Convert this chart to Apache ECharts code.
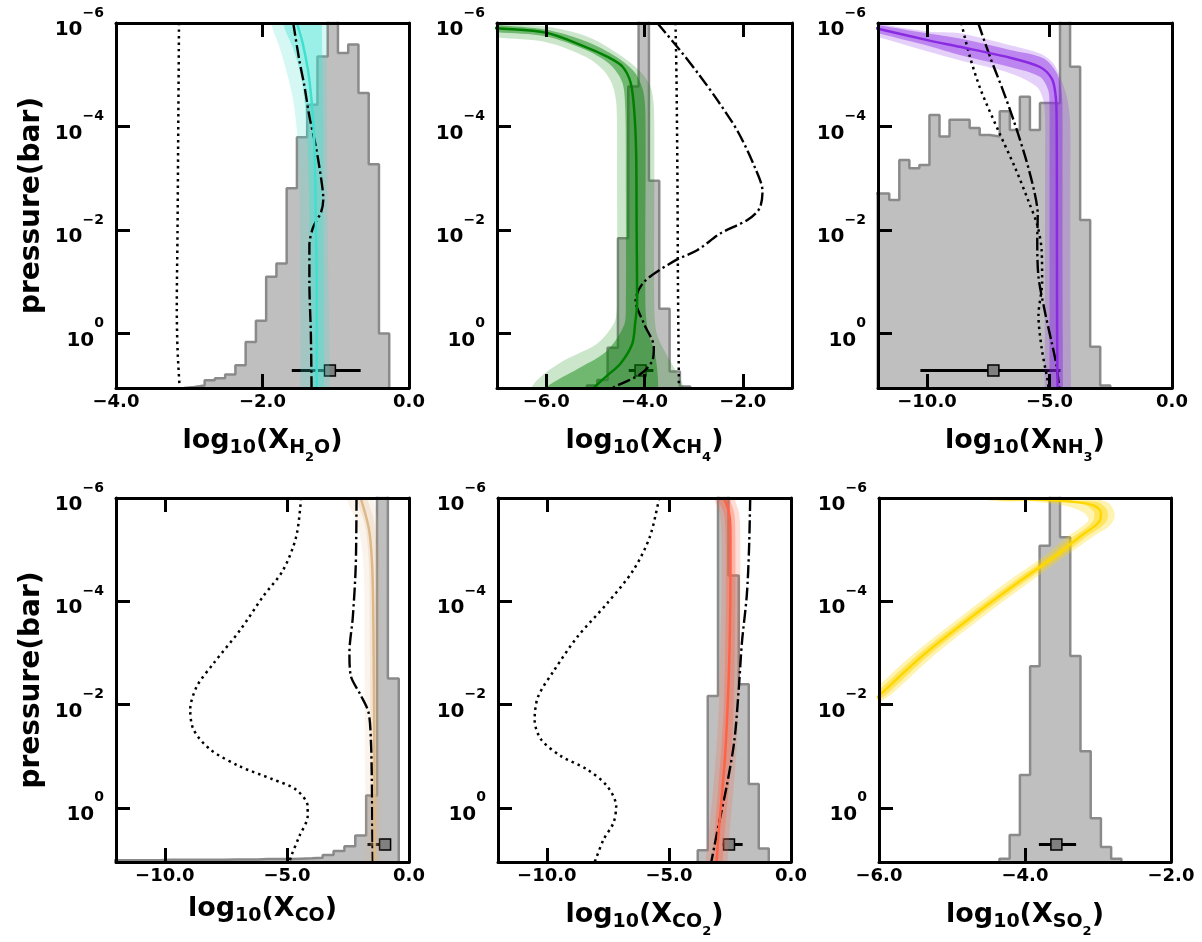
<!DOCTYPE html>
<html>
<head>
<meta charset="utf-8">
<script src="https://cdn.jsdelivr.net/npm/echarts@6/dist/echarts.min.js"></script>
<style>
  html, body { margin: 0; padding: 0; background: #fff; }
  #chart { width: 1202px; height: 942px; }
</style>
</head>
<body>
<div id="chart"></div>
<script>
// pressure axis is log10(p / bar); top of every panel is 1e-6 bar
const pTicks = [-6, -4, -2, 0];
const pBottom = 1.05;
const errP = 0.71; // pressure level where the retrieved value is marked

// ---------- H2O ----------
const h2oEdges = [-3.07, -2.93, -2.79, -2.65, -2.51, -2.37, -2.23, -2.09, -1.95, -1.81, -1.67, -1.53, -1.39, -1.25, -1.11, -0.97, -0.83, -0.69, -0.55, -0.41, -0.27];
const h2oCounts = [0.3, 0.7, 2.1, 2.7, 3.7, 6.2, 12.6, 18.4, 30.5, 34.1, 54.7, 68.7, 77.6, 90.8, 105, 91.8, 94.1, 80.8, 61.3, 14.9];
const h2oMed = [[-1.53, -6], [-1.45, -5.6], [-1.38, -5.1], [-1.33, -4.5], [-1.30, -3.9], [-1.28, -3], [-1.27, -2], [-1.26, -1], [-1.26, 0], [-1.26, 1.06]];
const h2oLo1 = [[-1.72, -6], [-1.58, -5.5], [-1.48, -5], [-1.42, -4.4], [-1.39, -3.7], [-1.37, -3], [-1.36, -2], [-1.35, 0], [-1.35, 1.06]];
const h2oHi1 = [[-1.19, -6], [-1.18, -5], [-1.17, -4], [-1.17, -2], [-1.16, 0], [-1.16, 1.06]];
const h2oLo2 = [[-1.88, -6], [-1.76, -5.5], [-1.66, -5.0], [-1.58, -4.5], [-1.53, -3.9], [-1.50, -3], [-1.49, -2], [-1.48, 0], [-1.48, 1.06]];
const h2oHi2 = [[-1.12, -6], [-1.12, -4], [-1.11, -2], [-1.10, -1], [-1.09, 0], [-1.08, 1.06]];
const h2oDot = [[-3.14, -6], [-3.15, -4], [-3.16, -2], [-3.17, -0.5], [-3.16, 0.3], [-3.13, 1.06]];
const h2oDash = [[-1.58, -6], [-1.50, -5.3], [-1.43, -4.8], [-1.36, -4.2], [-1.27, -3.6], [-1.20, -3.0], [-1.17, -2.6], [-1.20, -2.35], [-1.31, -2.05], [-1.36, -1.7], [-1.36, -1.0], [-1.34, 0], [-1.33, 1.06]];
const h2oErr = [-1.60, -1.08, -0.66];

// ---------- CH4 ----------
const ch4Edges = [-5.17, -4.96, -4.75, -4.54, -4.33, -4.12, -3.91, -3.70, -3.49, -3.28, -3.07];
const ch4Counts = [0.7, 2.2, 11, 41, 82.6, 110, 56.8, 21.7, 4.5, 0.4];
const ch4Med = [[-7.3, -5.93], [-7.0, -5.90], [-6.0, -5.81], [-5.23, -5.55], [-4.76, -5.35], [-4.45, -5.16], [-4.28, -4.84], [-4.21, -4.32], [-4.17, -3.5], [-4.16, -2], [-4.15, -0.6], [-4.19, -0.2], [-4.25, 0.2], [-4.49, 0.58], [-4.76, 0.81], [-5.05, 1.06]];
const ch4Lo1 = [[-7.3, -5.84], [-7.0, -5.82], [-6.0, -5.74], [-5.17, -5.47], [-4.70, -5.2], [-4.45, -4.85], [-4.39, -4.3], [-4.38, -3], [-4.38, -0.5], [-4.42, -0.15], [-4.76, 0.33], [-5.30, 0.65], [-5.85, 0.94], [-6.0, 1.06]];
const ch4Hi1 = [[-7.3, -5.99], [-7.0, -5.96], [-6.0, -5.87], [-5.17, -5.64], [-4.56, -5.34], [-4.20, -5.05], [-4.03, -4.7], [-3.98, -4.2], [-3.98, -0.5], [-3.92, 0], [-3.80, 0.33], [-3.74, 0.7], [-3.72, 1.06]];
const ch4Lo2 = [[-7.3, -5.75], [-7.0, -5.72], [-6.0, -5.63], [-5.2, -5.35], [-4.85, -5.1], [-4.65, -4.8], [-4.57, -4.4], [-4.56, -3], [-4.56, -0.5], [-4.62, -0.2], [-4.96, 0.19], [-5.64, 0.52], [-6.12, 0.84], [-6.3, 1.06]];
const ch4Hi2 = [[-7.3, -6.05], [-7.0, -6.0], [-6.0, -5.93], [-5.17, -5.74], [-4.56, -5.42], [-4.08, -5.06], [-3.88, -4.77], [-3.81, -4.39], [-3.80, -3], [-3.80, -0.5], [-3.75, 0], [-3.60, 0.32], [-3.33, 0.77], [-3.20, 1.06]];
const ch4Dot = [[-3.37, -6], [-3.35, -5], [-3.33, -3], [-3.32, -1], [-3.31, 0], [-3.30, 1.06]];
const ch4Dash = [[-3.74, -6], [-3.30, -5.5], [-2.89, -5.0], [-2.51, -4.5], [-2.10, -3.9], [-1.75, -3.2], [-1.60, -2.75], [-1.66, -2.42], [-1.90, -2.2], [-2.45, -1.94], [-2.93, -1.61], [-3.40, -1.40], [-4.01, -1.0], [-4.18, -0.64], [-4.01, -0.19], [-3.81, 0.26], [-3.84, 0.52], [-4.08, 0.78], [-4.62, 1.03], [-4.75, 1.08]];
const ch4Err = [-4.32, -4.08, -3.82];

// ---------- NH3 ----------
const nh3Edges = [-12.36, -11.95, -11.54, -11.13, -10.72, -10.31, -9.90, -9.49, -9.08, -8.67, -8.26, -7.85, -7.44, -7.03, -6.62, -6.21, -5.80, -5.39, -4.98, -4.57, -4.16, -3.75, -3.34, -2.93, -2.52];
const nh3Counts = [53.3, 53.3, 51.5, 62.5, 60.2, 61.1, 74.8, 68.9, 73.5, 73.5, 71.2, 69.3, 68.9, 75.8, 70.7, 79.8, 70.7, 78.1, 78, 115, 88, 46, 11.3, 0.7];
const nh3Med = [[-12.3, -5.92], [-12.0, -5.89], [-9.89, -5.66], [-8.66, -5.54], [-6.61, -5.33], [-5.39, -5.15], [-4.90, -4.92], [-4.75, -4.6], [-4.71, -4.2], [-4.70, -3], [-4.69, 0], [-4.67, 1.06]];
const nh3Lo1 = [[-12.3, -5.84], [-12.0, -5.80], [-9.89, -5.55], [-8.66, -5.38], [-6.61, -5.15], [-5.39, -4.96], [-5.05, -4.70], [-5.0, -4.38], [-5.0, -3], [-5.0, 0], [-5.0, 1.06]];
const nh3Hi1 = [[-12.3, -6.0], [-12.0, -5.96], [-9.89, -5.79], [-8.66, -5.70], [-6.61, -5.48], [-5.25, -5.32], [-4.70, -5.03], [-4.50, -4.64], [-4.47, -4.2], [-4.47, -3], [-4.46, 0], [-4.45, 1.06]];
const nh3Lo2 = [[-12.3, -5.77], [-12.0, -5.73], [-9.89, -5.44], [-8.66, -5.28], [-6.61, -5.03], [-5.52, -4.77], [-5.25, -4.51], [-5.18, -4.12], [-5.18, -3], [-5.19, 0], [-5.2, 1.06]];
const nh3Hi2 = [[-12.3, -6.04], [-12.0, -5.99], [-9.89, -5.83], [-8.66, -5.80], [-6.61, -5.57], [-5.39, -5.41], [-4.84, -5.22], [-4.57, -4.96], [-4.29, -4.57], [-4.16, -4.1], [-4.15, -3], [-4.14, 0], [-4.12, 1.06]];
const nh3Dot = [[-8.6, -6], [-8.25, -5.35], [-7.8, -4.7], [-7.05, -3.88], [-6.4, -3.2], [-5.85, -2.55], [-5.5, -2.1], [-5.32, -1.6], [-5.3, -1.0], [-5.45, -0.35], [-5.32, 0.28], [-5.08, 0.9], [-5.04, 1.06]];
const nh3Dash = [[-7.91, -6], [-7.43, -5.35], [-6.9, -4.7], [-6.45, -4.1], [-5.95, -3.35], [-5.6, -2.7], [-5.48, -2.3], [-5.5, -1.8], [-5.45, -1.1], [-5.2, -0.45], [-4.92, 0.15], [-4.72, 0.6], [-4.6, 1.06]];
const nh3Err = [-10.27, -7.29, -4.55];

// ---------- CO ----------
const coEdges = [-12.435, -11.99, -11.545, -11.10, -10.655, -10.21, -9.765, -9.32, -8.875, -8.43, -7.985, -7.54, -7.095, -6.65, -6.205, -5.76, -5.315, -4.87, -4.425, -3.98, -3.535, -3.09, -2.645, -2.20, -1.755, -1.31, -0.865, -0.42];
const coCounts = [0.5, 0.5, 0.5, 0.5, 0.5, 0.6, 0.6, 0.6, 0.6, 0.6, 0.6, 0.7, 0.7, 0.7, 0.8, 0.8, 0.8, 0.9, 1.0, 1.2, 1.9, 3.0, 4.3, 7.3, 18.3, 110, 50.4];
const coMed = [[-1.98, -6], [-1.64, -5.4], [-1.52, -4.8], [-1.47, -4], [-1.44, -2.5], [-1.42, -1], [-1.41, 1.06]];
const coLo1 = [[-2.15, -6], [-1.82, -5.5], [-1.68, -5.0], [-1.62, -4.4], [-1.60, -3], [-1.59, -1], [-1.58, 1.06]];
const coHi1 = [[-1.70, -6], [-1.45, -5.6], [-1.34, -5.1], [-1.30, -4.5], [-1.28, -2], [-1.27, 1.06]];
const coLo2 = [[-2.55, -6], [-2.12, -5.5], [-1.92, -5.0], [-1.84, -4.4], [-1.82, -3], [-1.80, -1], [-1.78, 1.06]];
const coHi2 = [[-1.45, -6], [-1.28, -5.6], [-1.21, -5.0], [-1.18, -4.4], [-1.17, -2], [-1.16, 1.06]];
const coDot = [[-4.42, -6], [-4.62, -5.25], [-5.16, -4.6], [-5.98, -4.09], [-6.92, -3.44], [-8.0, -2.8], [-8.69, -2.35], [-8.96, -1.9], [-8.82, -1.51], [-8.14, -1.13], [-6.92, -0.8], [-5.57, -0.55], [-4.62, -0.35], [-4.15, -0.03], [-4.15, 0.16], [-4.49, 0.55], [-4.82, 0.93], [-4.9, 1.06]];
const coDash = [[-2.15, -6], [-2.18, -4.7], [-2.30, -3.7], [-2.44, -3.0], [-2.38, -2.55], [-2.0, -2.2], [-1.66, -1.85], [-1.56, -1.3], [-1.52, -0.5], [-1.50, 0.5], [-1.48, 1.06]];
const coErr = [-1.70, -0.98, -0.95];

// ---------- CO2 ----------
const co2Edges = [-3.82, -3.41, -2.99, -2.56, -2.14, -1.73, -1.32, -0.91];
const co2Counts = [3.2, 45.6, 110, 78.7, 48.8, 21.4, 3.7];
const co2Med = [[-2.75, -6], [-2.55, -5.75], [-2.48, -5.4], [-2.48, -4.5], [-2.50, -3.5], [-2.55, -2.5], [-2.62, -1.7], [-2.70, -1.0], [-2.82, -0.3], [-2.95, 0.4], [-3.05, 1.06]];
const co2Lo1 = [[-3.0, -6], [-2.75, -5.7], [-2.68, -5.3], [-2.67, -4], [-2.70, -3], [-2.75, -2], [-2.85, -1.2], [-2.98, -0.4], [-3.12, 0.4], [-3.22, 1.06]];
const co2Hi1 = [[-2.5, -6], [-2.32, -5.7], [-2.28, -5.3], [-2.28, -4], [-2.30, -3], [-2.35, -2], [-2.42, -1.2], [-2.55, -0.4], [-2.7, 0.4], [-2.8, 1.06]];
const co2Lo2 = [[-3.15, -6], [-2.92, -5.7], [-2.85, -5.3], [-2.85, -4], [-2.9, -3], [-2.95, -2], [-3.05, -1.2], [-3.18, -0.4], [-3.35, 0.4], [-3.5, 1.06]];
const co2Hi2 = [[-2.3, -6], [-2.12, -5.7], [-2.08, -5.3], [-2.08, -4], [-2.1, -3], [-2.15, -2], [-2.22, -1.2], [-2.35, -0.4], [-2.5, 0.4], [-2.6, 1.06]];
const co2Dot = [[-5.40, -6], [-5.78, -5.25], [-6.46, -4.6], [-7.53, -3.96], [-8.75, -3.31], [-9.69, -2.67], [-10.36, -2.15], [-10.5, -1.70], [-10.23, -1.32], [-9.42, -1.0], [-8.34, -0.74], [-7.53, -0.42], [-7.16, -0.03], [-7.27, 0.29], [-7.67, 0.61], [-8.0, 1.0], [-8.05, 1.06]];
const co2Dash = [[-1.67, -6], [-1.72, -5], [-1.81, -4.12], [-2.01, -3.2], [-2.14, -2.3], [-2.32, -1.3], [-2.62, -0.45], [-2.95, 0.3], [-3.12, 0.7], [-3.27, 1.06]];
const co2Err = [-2.80, -2.54, -1.98];

// ---------- SO2 ----------
const so2Edges = [-4.35, -4.21, -4.07, -3.93, -3.80, -3.66, -3.52, -3.38, -3.24, -3.10, -2.96, -2.82, -2.68];
const so2Counts = [0.9, 7.4, 23.9, 53.8, 86.9, 110, 89.2, 56.6, 30.4, 12.0, 4.1, 0.9];
const so2Med = [[-4.4, -6.0], [-3.8, -5.97], [-3.3, -5.92], [-3.05, -5.85], [-2.96, -5.72], [-2.97, -5.58], [-3.05, -5.45], [-3.25, -5.25], [-3.57, -4.89], [-4.03, -4.43], [-4.71, -3.72], [-5.40, -2.95], [-6.0, -2.17], [-6.2, -1.9]];
const so2Lo1 = [[-4.5, -6.0], [-3.6, -5.95], [-3.2, -5.88], [-3.06, -5.74], [-3.06, -5.58], [-3.14, -5.45], [-3.34, -5.25], [-3.66, -4.88], [-4.12, -4.42], [-4.80, -3.71], [-5.49, -2.94], [-6.09, -2.16], [-6.3, -1.9]];
const so2Hi1 = [[-3.5, -6.0], [-3.0, -5.92], [-2.88, -5.78], [-2.87, -5.6], [-2.95, -5.45], [-3.15, -5.26], [-3.48, -4.9], [-3.94, -4.44], [-4.62, -3.73], [-5.31, -2.96], [-5.91, -2.18], [-6.2, -1.85]];
const so2Lo2 = [[-4.6, -6.0], [-3.9, -5.93], [-3.45, -5.85], [-3.2, -5.72], [-3.13, -5.58], [-3.22, -5.45], [-3.42, -5.25], [-3.74, -4.87], [-4.20, -4.42], [-4.88, -3.70], [-5.57, -2.93], [-6.17, -2.15], [-6.4, -1.9]];
const so2Hi2 = [[-3.0, -6.0], [-2.85, -5.9], [-2.78, -5.75], [-2.78, -5.6], [-2.85, -5.45], [-3.05, -5.27], [-3.40, -4.92], [-3.86, -4.45], [-4.54, -3.74], [-5.23, -2.97], [-5.83, -2.2], [-6.2, -1.8]];
const so2Err = [-3.81, -3.57, -3.30];

const FONT = '"DejaVu Sans", sans-serif';

const panels = [
  { box: [116, 23, 293, 365], x: [-4, 0], xTicks: [-4, -2, 0], sp: '{s|H}{t|2}{s|O}', color: '#40E0D0', alpha: [0.22, 0.4],
    edges: h2oEdges, counts: h2oCounts, med: h2oMed, b1: [h2oLo1, h2oHi1], b2: [h2oLo2, h2oHi2], dot: h2oDot, dash: h2oDash, err: h2oErr, yName: true },
  { box: [497, 23, 295, 365], x: [-7, -1], xTicks: [-6, -4, -2], sp: '{s|CH}{t|4}', color: '#008000', alpha: [0.2, 0.45],
    edges: ch4Edges, counts: ch4Counts, med: ch4Med, b1: [ch4Lo1, ch4Hi1], b2: [ch4Lo2, ch4Hi2], dot: ch4Dot, dash: ch4Dash, err: ch4Err },
  { box: [878, 23, 294, 365], x: [-12, 0], xTicks: [-10, -5, 0], sp: '{s|NH}{t|3}', color: '#8A2BE2', alpha: [0.22, 0.45],
    edges: nh3Edges, counts: nh3Counts, med: nh3Med, b1: [nh3Lo1, nh3Hi1], b2: [nh3Lo2, nh3Hi2], dot: nh3Dot, dash: nh3Dash, err: nh3Err },
  { box: [116, 498, 293, 364], x: [-12, 0], xTicks: [-10, -5, 0], sp: '{s|CO}', color: '#DEB887', alpha: [0.15, 0.22],
    edges: coEdges, counts: coCounts, med: coMed, b1: [coLo1, coHi1], b2: [coLo2, coHi2], dot: coDot, dash: coDash, err: coErr, yName: true },
  { box: [498, 498, 293, 364], x: [-12, 0], xTicks: [-10, -5, 0], sp: '{s|CO}{t|2}', color: '#FF6347', alpha: [0.22, 0.35],
    edges: co2Edges, counts: co2Counts, med: co2Med, b1: [co2Lo1, co2Hi1], b2: [co2Lo2, co2Hi2], dot: co2Dot, dash: co2Dash, err: co2Err },
  { box: [879, 498, 292, 364], x: [-6, -2], xTicks: [-6, -4, -2], sp: '{s|SO}{t|2}', color: '#FFD700', alpha: [0.3, 0.45],
    edges: so2Edges, counts: so2Counts, med: so2Med, b1: [so2Lo1, so2Hi1], b2: [so2Lo2, so2Hi2], err: so2Err }
];

function rgba(hex, a) {
  const n = parseInt(hex.slice(1), 16);
  return 'rgba(' + (n >> 16) + ',' + ((n >> 8) & 255) + ',' + (n & 255) + ',' + a + ')';
}
const minus = v => (v < 0 ? '\u2212' : '') + Math.abs(v);
const fmtX = v => (v < 0 ? '\u2212' : '') + Math.abs(v).toFixed(1);

// step outline of a histogram (stepfilled)
function histPath(edges, counts) {
  const pts = [[edges[0], 0]];
  counts.forEach((c, k) => { pts.push([edges[k], c], [edges[k + 1], c]); });
  pts.push([edges[edges.length - 1], 0]);
  return pts;
}

function band(xi, yi, lo, hi, fill) {
  return {
    type: 'custom', xAxisIndex: xi, yAxisIndex: yi, clip: true, silent: true, z: 3,
    data: [[0, 0]],
    renderItem: (params, api) => {
      const a = lo[0], b = lo[lo.length - 1], c = hi[hi.length - 1], d = hi[0];
      const pts = [[a[0], a[1] - 0.5]].concat(lo, [[b[0], b[1] + 0.5], [c[0], c[1] + 0.5]], hi.slice().reverse(), [[d[0], d[1] - 0.5]]);
      return { type: 'polygon', shape: { points: pts.map(p => api.coord(p)), smooth: 0.3 }, style: { fill: fill } };
    }
  };
}

const txt = { color: '#000', fontWeight: 'bold', fontFamily: FONT };
const supRich = {
  b: Object.assign({ fontSize: 20, padding: [14, 0, 0, 0] }, txt),
  s: Object.assign({ fontSize: 14, padding: [0, 0, 20, 0] }, txt)
};
const nameRich = {
  m: Object.assign({ fontSize: 27 }, txt),
  s: Object.assign({ fontSize: 19, padding: [16, 0, 0, 0] }, txt),
  t: Object.assign({ fontSize: 13, padding: [34, 0, 0, 0] }, txt)
};

const grid = [], xAxis = [], yAxis = [], series = [];
const frameLine = { show: true, onZero: false, lineStyle: { color: '#000', width: 3 } };
const ticks = vals => ({ show: true, inside: true, length: 14, customValues: vals, lineStyle: { color: '#000', width: 3 } });

panels.forEach((pn, i) => {
  grid.push({ left: pn.box[0], top: pn.box[1], width: pn.box[2], height: pn.box[3] });
  xAxis.push({
    gridIndex: i, type: 'value', min: pn.x[0], max: pn.x[1], position: 'bottom', z: 10,
    axisLine: frameLine, axisTick: ticks(pn.xTicks), splitLine: { show: false },
    axisLabel: Object.assign({ customValues: pn.xTicks, formatter: fmtX, margin: 5, fontSize: 18 }, txt),
    name: '{m|log}{s|10}{m|(X}' + pn.sp + '{m|)}', nameLocation: 'middle', nameGap: 29,
    nameTextStyle: { rich: nameRich }
  }, {
    gridIndex: i, type: 'value', min: pn.x[0], max: pn.x[1], position: 'top', z: 10,
    axisLine: frameLine, axisTick: ticks(pn.xTicks), axisLabel: { show: false }, splitLine: { show: false }
  });
  yAxis.push({
    gridIndex: i, type: 'value', min: -6, max: pBottom, inverse: true, position: 'left', z: 10,
    axisLine: frameLine, axisTick: ticks(pTicks), splitLine: { show: false },
    axisLabel: { customValues: pTicks, formatter: v => '{b|10}{s|' + minus(v) + '}', rich: supRich, margin: 12 },
    name: pn.yName ? 'pressure(bar)' : '', nameLocation: 'middle', nameGap: 70,
    nameTextStyle: Object.assign({ fontSize: 28 }, txt)
  }, {
    gridIndex: i, type: 'value', min: 0, max: 100, position: 'right', z: 10,
    axisLine: frameLine, axisTick: { show: false }, axisLabel: { show: false }, splitLine: { show: false }
  });

  const xi = 2 * i, yi = 2 * i, hy = 2 * i + 1;
  series.push({
    type: 'line', xAxisIndex: xi, yAxisIndex: hy, data: histPath(pn.edges, pn.counts), symbol: 'none', silent: true, z: 1,
    lineStyle: { color: '#8a8a8a', width: 2.5 }, areaStyle: { color: '#bfbfbf', opacity: 1 }
  });
  series.push({
    type: 'line', xAxisIndex: xi, yAxisIndex: yi, data: [[pn.err[0], errP], [pn.err[2], errP]], symbol: 'none', silent: true, z: 2,
    lineStyle: { color: '#000', width: 3 }
  });
  series.push({
    type: 'scatter', xAxisIndex: xi, yAxisIndex: yi, data: [[pn.err[1], errP]], symbol: 'rect', symbolSize: 11, silent: true, z: 2,
    itemStyle: { color: '#808080', borderColor: '#000', borderWidth: 1.5, opacity: 1 }
  });
  series.push(band(xi, yi, pn.b2[0], pn.b2[1], rgba(pn.color, pn.alpha[0])));
  series.push(band(xi, yi, pn.b1[0], pn.b1[1], rgba(pn.color, pn.alpha[1])));
  if (pn.dot) series.push({
    type: 'line', xAxisIndex: xi, yAxisIndex: yi, data: pn.dot, smooth: 0.3, symbol: 'none', silent: true, z: 4,
    lineStyle: { color: '#000', width: 2.5, type: [2.5, 4] }
  });
  if (pn.dash) series.push({
    type: 'line', xAxisIndex: xi, yAxisIndex: yi, data: pn.dash, smooth: 0.3, symbol: 'none', silent: true, z: 4,
    lineStyle: { color: '#000', width: 2.4, type: [13, 3.5, 2.4, 3.5] }
  });
  series.push({
    type: 'line', xAxisIndex: xi, yAxisIndex: yi, data: pn.med, smooth: 0.3, symbol: 'none', silent: true, z: 5,
    lineStyle: { color: pn.color, width: 2.5 }
  });
});

const chart = echarts.init(document.getElementById('chart'));
chart.setOption({ animation: false, backgroundColor: '#fff', grid, xAxis, yAxis, series });
</script>
</body>
</html>
